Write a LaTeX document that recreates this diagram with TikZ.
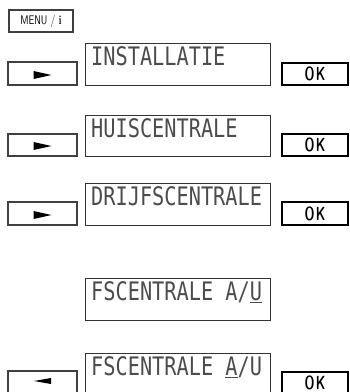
\documentclass[tikz,border=0pt]{standalone}
\usepackage{fontspec}
\newfontfamily\lcd{DejaVu Sans Mono}
\tikzset{
  lcdbox/.style={draw=black!80, line width=0.9pt},
  keybox/.style={draw=black!75, line width=1.1pt, minimum width=69pt, inner sep=0pt},
  okbox/.style={draw=black, line width=1.3pt, minimum width=66pt, inner sep=0pt},
  lcdtext/.style={anchor=base west, inner sep=0pt, font=\lcd\fontsize{25.5}{25.5}\selectfont, text=black!70},
  oktext/.style={inner sep=0pt, font=\sffamily\bfseries\fontsize{19}{19}\selectfont},
}
\newcommand{\lcdtxt}[1]{\scalebox{0.795}[1]{#1}}
\newcommand{\oklbl}{\scalebox{0.66}[1]{O\kern2pt K}}
\begin{document}
\begin{tikzpicture}[x=1pt,y=-1pt]
\useasboundingbox (0,0) rectangle (350,392);
\clip (0,0) rectangle (350,392);
% MENU key
\node[keybox, minimum width=64pt, minimum height=22pt] (mk) at (41,21) {};
\node[inner sep=0pt, font=\sffamily\fontsize{12.5}{12.5}\selectfont] (menu) at (mk.center) {\scalebox{0.78}[1]{MENU / {\rmfamily\bfseries i}}};
% Row 1
\node[keybox, minimum height=23pt] (k1) at (42.5,73.5) {};
\fill (k1.center) ++(-9,-2.5) -- ++(0,8) -- ++(18,-4) -- cycle;
\draw[lcdbox] (85,43) rectangle (270,85);
\node[lcdtext] (d1) at (91,65.5) {\lcdtxt{INSTALLATIE}};
\node[okbox, minimum height=22pt] (ok1) at (315,74) {};
\node[oktext] (o1) at (ok1.center) {\oklbl};
% Row 2
\node[keybox, minimum height=22pt] (k2) at (42.5,145) {};
\fill (k2.center) ++(-9,-3) -- ++(0,8) -- ++(18,-4) -- cycle;
\draw[lcdbox] (85,115) rectangle (270,156);
\node[lcdtext] (d2) at (91,137.5) {\lcdtxt{HUISCENTRALE}};
\node[okbox, minimum height=22pt] (ok2) at (315,145) {};
\node[oktext] (o2) at (ok2.center) {\oklbl};
% Row 3
\node[keybox, minimum height=23pt] (k3) at (42.5,213.5) {};
\fill (k3.center) ++(-9,-2.5) -- ++(0,8) -- ++(18,-4) -- cycle;
\draw[lcdbox] (85,183) rectangle (270,225);
\node[lcdtext] (d3) at (91,205.5) {\lcdtxt{DRIJFSCENTRALE}};
\node[okbox, minimum height=23pt] (ok3) at (315,213.5) {};
\node[oktext] (o3) at (ok3.center) {\oklbl};
% Display 4
\draw[lcdbox] (85,278) rectangle (270,320);
\node[lcdtext] (d4) at (91,300.5) {\lcdtxt{FSCENTRALE A/\underline{U}}};
% Row 5
\node[keybox, minimum height=25pt] (k5) at (42.5,383.5) {};
\fill (k5.center) ++(8.5,-5.5) -- ++(0,6) -- ++(-17,-3) -- cycle;
\draw[lcdbox] (85,353) rectangle (270,396);
\node[lcdtext] (d5) at (91,375.5) {\lcdtxt{FSCENTRALE \underline{A}/U}};
\node[okbox, minimum height=24pt] (ok5) at (315,384) {};
\node[oktext] (o5) at (315,383) {\oklbl};
\end{tikzpicture}
\end{document}
